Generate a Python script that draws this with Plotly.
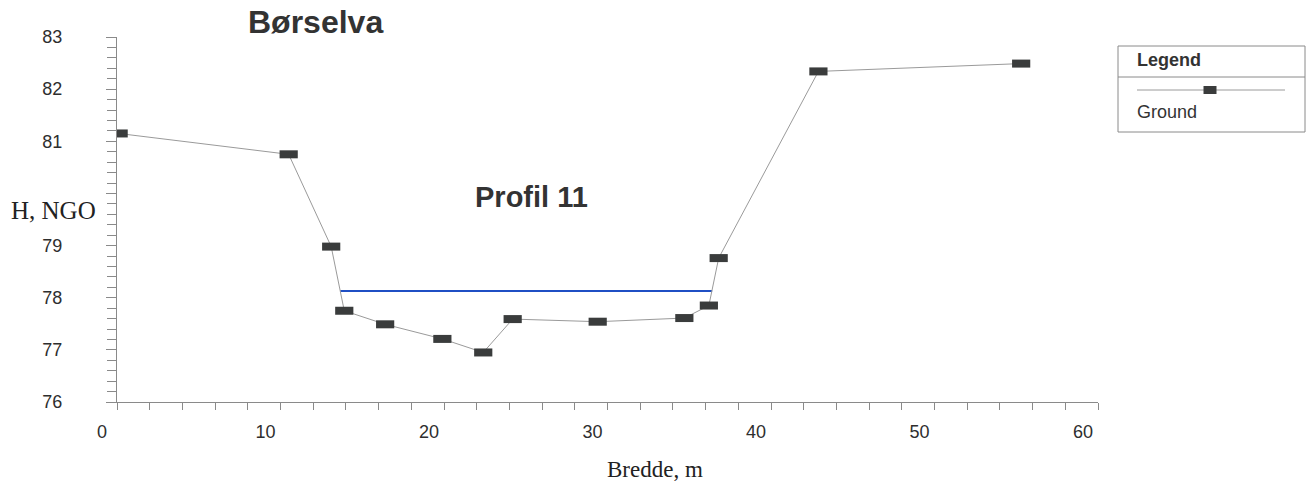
import plotly.graph_objects as go

# Data
ground_x = [0.1, 10.5, 13.1, 13.9, 16.4, 19.9, 22.4, 24.2, 29.4, 34.7, 36.2, 36.8, 42.9, 55.3]
ground_y = [81.15, 80.75, 78.98, 77.75, 77.49, 77.21, 76.95, 77.59, 77.54, 77.61, 77.85, 78.76, 82.34, 82.49]
water_x = [13.65, 36.4]
water_y = [78.13, 78.13]
y_tickvals = [76, 77, 78, 79, 80, 81, 82, 83]
y_ticktext = ["76", "77", "78", "79", "", "81", "82", "83"]
x_tickvals = [0, 10, 20, 30, 40, 50, 60]

W, H = 1314, 486
L, R, T, B = 117, 216, 37, 84
PW = W - L - R
PH = H - T - B

def px(x):
    return (x - L) / PW

def py(y):
    return (H - B - y) / PH

SANS = "Liberation Sans, Arial, sans-serif"
SERIF = "Liberation Serif, Times New Roman, serif"
TXT = "#2e2e2e"

fig = go.Figure()
fig.add_trace(go.Scatter(
    x=water_x, y=water_y, mode="lines",
    line=dict(color="#1f4fc4", width=2), showlegend=False, hoverinfo="skip"))
fig.add_trace(go.Scatter(
    x=ground_x, y=ground_y, mode="lines+markers", name="Ground",
    line=dict(color="#9a9a9a", width=1),
    marker=dict(symbol="line-ew", size=13, color="#3a3c3c",
                line=dict(color="#3a3c3c", width=8)),
    showlegend=False))

fig.update_layout(
    width=W, height=H,
    margin=dict(l=L, r=R, t=T, b=B),
    paper_bgcolor="white", plot_bgcolor="white",
    font=dict(family=SANS, color=TXT, size=18),
    xaxis=dict(range=[0, 60], tickvals=x_tickvals, showgrid=False, zeroline=False,
               showline=True, linecolor="#8a8a8a", linewidth=1,
               ticks="outside", ticklen=7, tickcolor="#8a8a8a", tickwidth=1,
               ticklabelstandoff=6, ticklabelshift=-15,
               tickfont=dict(family=SANS, size=18, color=TXT),
               minor=dict(dtick=2, ticks="outside", ticklen=7, tickcolor="#8a8a8a", tickwidth=1)),
    yaxis=dict(range=[76, 83], tickvals=y_tickvals, ticktext=y_ticktext, showgrid=False,
               zeroline=False, showline=True, linecolor="#8a8a8a", linewidth=1,
               ticks="outside", ticklen=10, tickcolor="#8a8a8a", tickwidth=1,
               ticklabelstandoff=40,
               tickfont=dict(family=SANS, size=18, color=TXT),
               minor=dict(dtick=0.2, ticks="outside", ticklen=9, tickcolor="#8a8a8a", tickwidth=1)),
)

ann = [
    dict(text="<b>Børselva</b>", x=px(315), y=py(22), font=dict(family=SANS, size=32, color="#333333")),
    dict(text="<b>Profil 11</b>", x=px(531), y=py(197), font=dict(family=SANS, size=29, color="#333333")),
    dict(text="H, NGO", x=px(98), y=py(210), xanchor="right", font=dict(family=SERIF, size=25, color="#222222")),
    dict(text="Bredde, m", x=px(655), y=py(469), font=dict(family=SERIF, size=23, color="#222222")),
    dict(text="<b>Legend</b>", x=px(1135), y=py(60), xanchor="left", font=dict(family=SANS, size=18, color="#333333")),
    dict(text="Ground", x=px(1135), y=py(112), xanchor="left", font=dict(family=SANS, size=18, color="#333333")),
]
for a in ann:
    a.setdefault("xanchor", "center")
    fig.add_annotation(xref="paper", yref="paper", showarrow=False, yanchor="middle", **a)

fig.add_shape(type="rect", xref="paper", yref="paper", x0=px(1118), x1=px(1305), y0=py(132), y1=py(46),
              line=dict(color="#8a8a8a", width=1))
fig.add_shape(type="line", xref="paper", yref="paper", x0=px(1118), x1=px(1305), y0=py(77), y1=py(77),
              line=dict(color="#8a8a8a", width=1))
fig.add_shape(type="line", xref="paper", yref="paper", x0=px(1137), x1=px(1285), y0=py(90), y1=py(90),
              line=dict(color="#9a9a9a", width=1))
fig.add_shape(type="rect", xref="paper", yref="paper", xsizemode="pixel", ysizemode="pixel",
              xanchor=px(1210), yanchor=py(90), x0=-6.5, x1=6.5, y0=-4, y1=4,
              fillcolor="#3a3c3c", line=dict(width=0))

fig.write_html("out.html", config={"displayModeBar": False},
               post_script="document.body.style.margin='0';document.documentElement.style.overflow='hidden';")
